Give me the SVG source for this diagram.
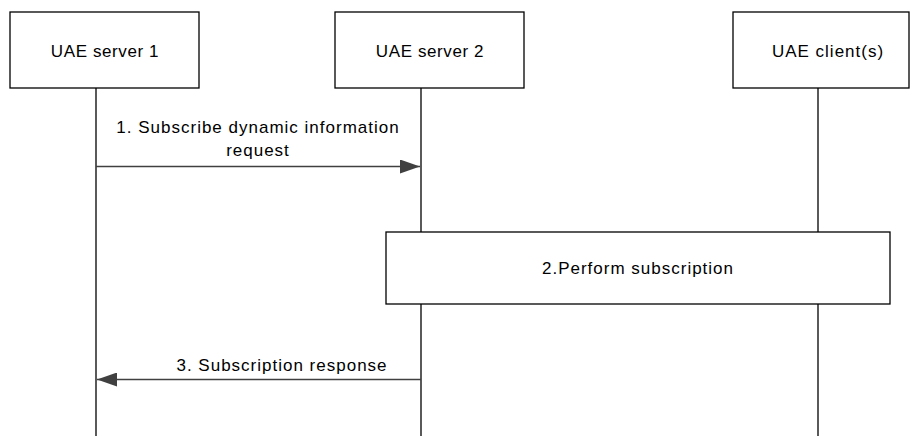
<svg xmlns="http://www.w3.org/2000/svg" width="910" height="436" viewBox="0 0 910 436">
<style>
.box{fill:#fff;stroke:#000;stroke-width:1.3}
.life{stroke:#000;stroke-width:1.3}
.msg{stroke:#404040;stroke-width:1.3;fill:none}
text{font-family:"Liberation Sans",Arial,sans-serif;font-size:17px;fill:#000;text-anchor:middle;letter-spacing:1px}
.hd{letter-spacing:0.6px}
</style>
<defs>
<marker id="ah" viewBox="0 0 20 14" refX="20" refY="7" markerWidth="20" markerHeight="14" markerUnits="userSpaceOnUse" orient="auto">
<path d="M0,0 L20,7 L0,14 Z" fill="#404040"/>
</marker>
</defs>
<g id="lifelines">
<line class="life" x1="96" y1="88" x2="96" y2="436"/>
<line class="life" x1="421" y1="88" x2="421" y2="436"/>
<line class="life" x1="818" y1="88" x2="818" y2="436"/>
</g>
<g id="server1"><rect class="box" x="10" y="12" width="189" height="76"/><text class="hd" x="105" y="57">UAE server 1</text></g>
<g id="server2"><rect class="box" x="335" y="12" width="189" height="76"/><text class="hd" x="430" y="57">UAE server 2</text></g>
<g id="client"><rect class="box" x="733" y="12" width="176" height="76"/><text x="828" y="57">UAE client(s)</text></g>
<g id="perform"><rect class="box" x="386" y="232" width="504" height="72"/><text x="638" y="274">2.Perform subscription</text></g>
<g id="connectors">
<line class="msg" x1="96" y1="166.5" x2="420" y2="166.5" marker-end="url(#ah)"/>
<text x="258" y="133">1. Subscribe dynamic information</text>
<text x="258" y="156">request</text>
<line class="msg" x1="421" y1="379.5" x2="97" y2="379.5" marker-end="url(#ah)"/>
<text x="282" y="371">3. Subscription response</text>
</g>
</svg>
